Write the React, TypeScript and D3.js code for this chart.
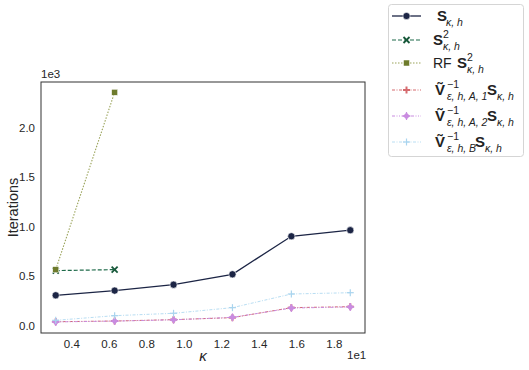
import React from "react";
import * as d3 from "d3";

const kappa = [Math.PI, 2 * Math.PI, 3 * Math.PI, 4 * Math.PI, 5 * Math.PI, 6 * Math.PI];
const sVals = [307, 354, 414, 519, 903, 964];
const s2Vals = [556, 566];
const rfVals = [566, 2357];
const a1Vals = [40, 47, 61, 81, 182, 192];
const a2Vals = [38, 46, 59, 84, 178, 189];
const bVals = [54, 101, 125, 182, 320, 333];
const xTicks = [4, 6, 8, 10, 12, 14, 16, 18];
const yTicks = [0, 500, 1000, 1500, 2000];

const W = 529, H = 370;
const L = 41, R = 365, T = 82, B = 333;

const series = [
  { key: "S", vals: sVals, color: "#1c2545", dash: "", marker: "circle", mcolor: "#1c2545", width: 1.3 },
  { key: "S2", vals: s2Vals, color: "#1f6b4a", dash: "4,2", marker: "x", mcolor: "#17583a", width: 1.2 },
  { key: "RF", vals: rfVals, color: "#9aa35a", dash: "1.5,1.5", marker: "square", mcolor: "#6e7b2c", width: 1.1 },
  { key: "A1", vals: a1Vals, color: "#d56a6e", dash: "3,1.5,1,1.5", marker: "plus", mcolor: "#d56a6e", width: 1 },
  { key: "A2", vals: a2Vals, color: "#c98ce0", dash: "3,1.5,1,1.5,1,1.5", marker: "diamondplus", mcolor: "#c98ce0", width: 1 },
  { key: "B", vals: bVals, color: "#b9def3", dash: "3,1.5,1,1.5", marker: "thinplus", mcolor: "#a9d4ee", width: 1 },
];

function Marker({ type, x, y, color }: { type: string; x: number; y: number; color: string }) {
  if (type === "circle") return <circle cx={x} cy={y} r={3.6} fill={color} stroke="white" strokeWidth={0.6} />;
  if (type === "square") return <rect x={x - 3} y={y - 3} width={6} height={6} fill={color} stroke="white" strokeWidth={0.5} />;
  if (type === "x")
    return (
      <g stroke={color} strokeWidth={1.8}>
        <line x1={x - 3} y1={y - 3} x2={x + 3} y2={y + 3} />
        <line x1={x - 3} y1={y + 3} x2={x + 3} y2={y - 3} />
      </g>
    );
  if (type === "plus")
    return (
      <g stroke={color} strokeWidth={2}>
        <line x1={x - 3.5} y1={y} x2={x + 3.5} y2={y} />
        <line x1={x} y1={y - 3.5} x2={x} y2={y + 3.5} />
      </g>
    );
  if (type === "diamondplus")
    return (
      <g>
        <path d={`M${x},${y - 3.5}L${x + 3.5},${y}L${x},${y + 3.5}L${x - 3.5},${y}Z`} fill={color} />
        <g stroke={color} strokeWidth={1.2}>
          <line x1={x - 4} y1={y} x2={x + 4} y2={y} />
          <line x1={x} y1={y - 4} x2={x} y2={y + 4} />
        </g>
      </g>
    );
  return (
    <g stroke={color} strokeWidth={1.2}>
      <line x1={x - 3.5} y1={y} x2={x + 3.5} y2={y} />
      <line x1={x} y1={y - 3.5} x2={x} y2={y + 3.5} />
    </g>
  );
}

const FONT = "'Liberation Sans', Arial, sans-serif";

function LegendLabel({ k, x, y }: { k: string; x: number; y: number }) {
  const big = 15;
  const sm = 10.5;
  const bold = { fontWeight: 700 as const, fontSize: big };
  const sub = (tx: number, t: string) => (
    <text x={tx} y={y + 5} fontSize={sm} fontStyle="italic">{t}</text>
  );
  const sup = (tx: number, t: string) => (
    <text x={tx} y={y - 7} fontSize={sm}>{t}</text>
  );
  const V = (tx: number) => <text x={tx} y={y} {...bold}>Ṽ</text>;
  if (k === "S")
    return (
      <g fontFamily={FONT} fill="#222">
        <text x={x + 4} y={y} {...bold}>S</text>
        {sub(x + 13, "κ, h")}
      </g>
    );
  if (k === "S2")
    return (
      <g fontFamily={FONT} fill="#222">
        <text x={x} y={y} {...bold}>S</text>
        {sup(x + 10, "2")}
        {sub(x + 10, "κ, h")}
      </g>
    );
  if (k === "RF")
    return (
      <g fontFamily={FONT} fill="#222">
        <text x={x} y={y} fontSize={14}>RF</text>
        <text x={x + 24} y={y} {...bold}>S</text>
        {sup(x + 34, "2")}
        {sub(x + 34, "κ, h")}
      </g>
    );
  if (k === "A1" || k === "A2")
    return (
      <g fontFamily={FONT} fill="#222">
        {V(x + 2)}
        {sup(x + 14, "−1")}
        {sub(x + 14, `ε, h, A, ${k === "A1" ? 1 : 2}`)}
        <text x={x + 54} y={y} {...bold}>S</text>
        {sub(x + 64, "κ, h")}
      </g>
    );
  return (
    <g fontFamily={FONT} fill="#222">
      {V(x + 2)}
      {sup(x + 14, "−1")}
      {sub(x + 14, "ε, h, B")}
      <text x={x + 42} y={y} {...bold}>S</text>
      {sub(x + 52, "κ, h")}
    </g>
  );
}

export default function App() {
  const x = d3.scaleLinear().domain([2.356, 19.635]).range([L, R]);
  const y = d3.scaleLinear().domain([-74, 2461]).range([B, T]);
  const line = d3
    .line<number>()
    .x((_, i) => x(kappa[i]))
    .y((d) => y(d));

  const legendY = [16, 40, 63, 90, 116, 142];

  return (
    <svg width={W} height={H} style={{ position: "absolute", left: 0, top: 0 }}>
      <rect x={0} y={0} width={W} height={H} fill="white" />
      {series.map((s) => (
        <g key={s.key}>
          <path d={line(s.vals) || ""} fill="none" stroke={s.color} strokeWidth={s.width} strokeDasharray={s.dash} />
          {s.vals.map((v, i) => (
            <Marker key={i} type={s.marker} x={x(kappa[i])} y={y(v)} color={s.mcolor} />
          ))}
        </g>
      ))}
      <rect x={L} y={T} width={R - L} height={B - T} fill="none" stroke="#333" strokeWidth={1} />
      <g fontFamily={FONT} fontSize={11.5} fill="#262626">
        {xTicks.map((t) => (
          <text key={t} x={x(t)} y={B + 15} textAnchor="middle">{(t / 10).toFixed(1)}</text>
        ))}
        {yTicks.map((t) => (
          <text key={t} x={L - 6} y={y(t) + 4} textAnchor="end">{(t / 1000).toFixed(1)}</text>
        ))}
        <text x={R - 18} y={B + 26}>1e1</text>
        <text x={L} y={T - 4}>1e3</text>
      </g>
      <text x={203} y={B + 28} fontFamily={FONT} fontSize={15} fontStyle="italic" textAnchor="middle" fill="#262626">κ</text>
      <text transform={`translate(18,${(T + B) / 2}) rotate(-90)`} fontFamily={FONT} fontSize={14.5} textAnchor="middle" fill="#262626">Iterations</text>
      <rect x={388.5} y={4.5} width={135} height={152} rx={3} fill="white" stroke="#d5d5d5" strokeWidth={1} />
      {series.map((s, i) => (
        <g key={s.key}>
          <line x1={392} x2={421} y1={legendY[i]} y2={legendY[i]} stroke={s.color} strokeWidth={s.width} strokeDasharray={s.dash} />
          <Marker type={s.marker} x={406.5} y={legendY[i]} color={s.mcolor} />
          <LegendLabel k={s.key} x={433} y={legendY[i] + 5} />
        </g>
      ))}
    </svg>
  );
}
